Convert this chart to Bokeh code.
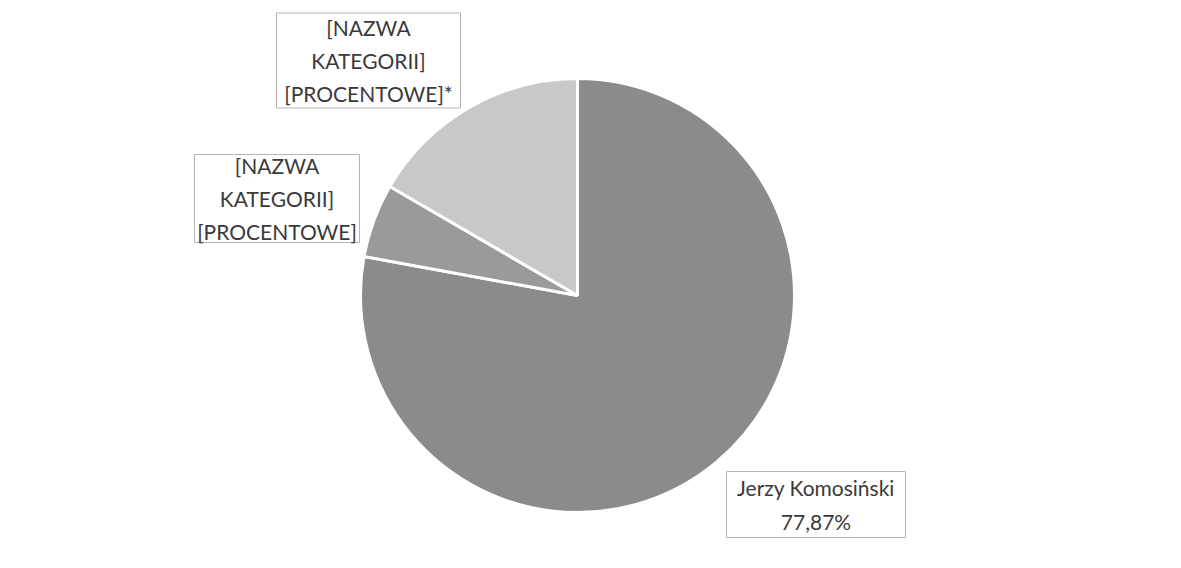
import numpy as np
from bokeh.plotting import figure
from bokeh.models import Range1d, ColumnDataSource
from bokeh.core.properties import value
from bokeh.embed import file_html
from bokeh.resources import INLINE

# --- data ---
categories = ["Jerzy Komosiński", "[NAZWA KATEGORII]", "[NAZWA KATEGORII]*"]
shares = [77.87, 5.50, 16.63]
label_texts = [
    "Jerzy Komosiński\n77,87%",
    "[NAZWA\nKATEGORII]\n[PROCENTOWE]",
    "[NAZWA\nKATEGORII]\n[PROCENTOWE]*",
]
colors = ["#8b8b8b", "#9a9a9a", "#c8c8c8"]

# --- layout (pixel-like data units) ---
W, H = 1165, 552
cx, cy, r = 577, 257, 217
label_x = [815.5, 276.5, 368]
label_y = [48, 354, 492]
box_w = [179, 165, 184]
box_h = [66, 88, 95]

vals = np.array(shares, dtype=float)
frac = vals / vals.sum()
cum = np.concatenate([[0.0], np.cumsum(frac)])
start = np.pi / 2 - 2 * np.pi * cum[:-1]
end = np.pi / 2 - 2 * np.pi * cum[1:]

src = ColumnDataSource(dict(cat=categories, start=start, end=end, color=colors))

p = figure(width=W, height=H, x_range=Range1d(0, W), y_range=Range1d(0, H),
           output_backend="svg", toolbar_location=None, min_border=0)
p.axis.visible = False
p.grid.visible = False
p.outline_line_color = None
p.background_fill_color = "white"
p.border_fill_color = "white"

p.wedge(x=cx, y=cy, radius=r, start_angle="start", end_angle="end",
        direction="clock", fill_color="color", line_color="white",
        line_width=3, source=src)

lsrc = ColumnDataSource(dict(x=label_x, y=label_y, w=box_w, h=box_h, t=label_texts))
p.rect(x="x", y="y", width="w", height="h", fill_color="white",
       line_color="#b5b5b5", line_width=1, source=lsrc)
p.text(x="x", y="y", text="t", text_align="center", text_baseline="middle",
       text_font=value("Lato"), text_font_size="21px", text_color="#3a3a3a",
       text_line_height=1.33, source=lsrc)

open("out.html", "w").write(file_html(p, INLINE))
